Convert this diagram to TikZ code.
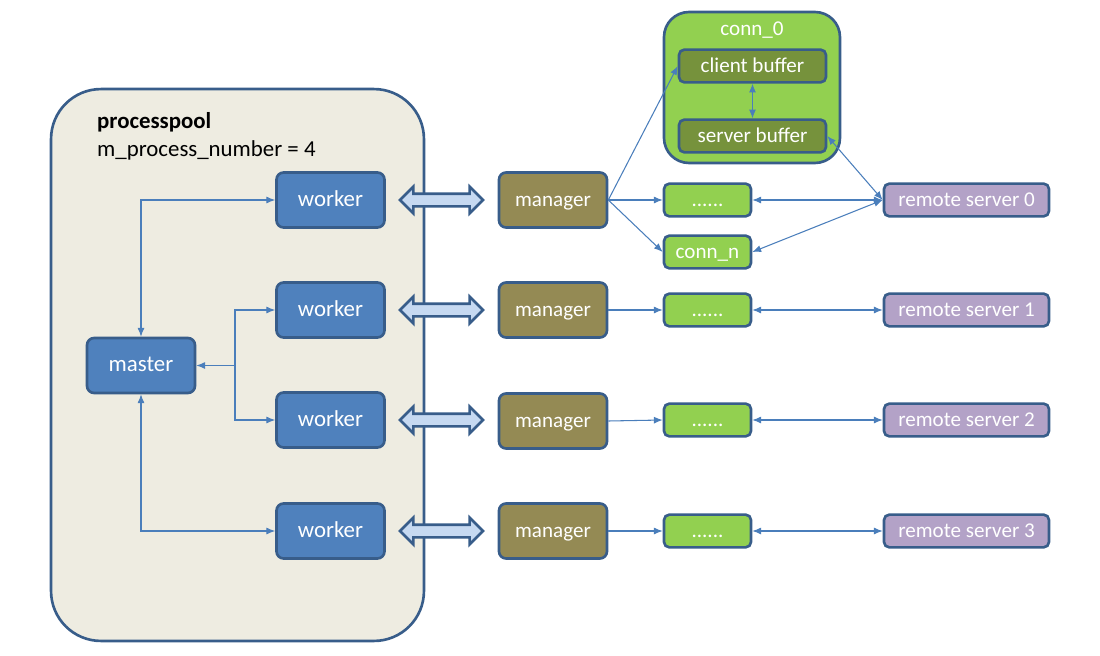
\documentclass[tikz,border=0pt]{standalone}
\usepackage{fontspec}
\setmainfont{Carlito}
\usetikzlibrary{arrows.meta,shapes.arrows}
\definecolor{wblue}{HTML}{4F81BD}
\definecolor{bdr}{HTML}{385D8A}
\definecolor{mgolive}{HTML}{948A54}
\definecolor{lgreen}{HTML}{92D050}
\definecolor{dgreen}{HTML}{76923C}
\definecolor{rpurple}{HTML}{B3A2C7}
\definecolor{poolbg}{HTML}{EEECE1}
\definecolor{lnblue}{HTML}{4A7EBB}
\definecolor{arrfill}{HTML}{C6D9F1}
\tikzset{node distance=2.5cm, auto,
  box/.style={draw=bdr, line width=1.5pt, rounded corners=4pt, text=white,
    font=\fontsize{12}{14}\selectfont, text height=2ex, text depth=0.5ex,
    minimum width=2.16cm, minimum height=1.1cm},
  wk/.style={box, fill=wblue, font=\fontsize{13}{15}\selectfont},
  mg/.style={box, fill=mgolive},
  sm/.style={box, fill=lgreen, minimum width=1.74cm, minimum height=0.64cm, rounded corners=3pt},
  rs/.style={box, fill=rpurple, minimum width=3.3cm, minimum height=0.64cm, rounded corners=3pt},
  buf/.style={box, fill=dgreen, minimum width=2.94cm, minimum height=0.64cm, rounded corners=3pt},
  pool/.style={draw=bdr, line width=1.5pt, fill=poolbg, rounded corners=1cm,
    minimum width=7.46cm, minimum height=11.04cm},
  conn/.style={draw=bdr, line width=1.5pt, fill=lgreen, rounded corners=0.5cm,
    minimum width=3.52cm, minimum height=3.02cm},
  dbl/.style={double arrow, draw=bdr, line width=1.5pt, fill=arrfill, inner sep=0.1cm,
    minimum height=1.66cm, minimum width=0.5cm, double arrow head extend=0.14cm},
  ln/.style={draw=lnblue, line width=0.6pt, >={Latex[length=5pt,width=4pt]}},
}

\begin{document}
\begin{tikzpicture}[x=0.02cm,y=-0.02cm]
\useasboundingbox (0,0) rectangle (1100,656);
\node[pool] (P) at (237.5,365) {};
\node[anchor=west, font=\fontsize{13}{15}\selectfont\bfseries] (T) at (91,122) {processpool};
\node[anchor=west, font=\fontsize{13}{15}\selectfont] (S) at (91,150) {m\_process\_number = 4};
\node[wk] (W0) at (330.5,200) {worker};
\node[wk] (W1) at (330.5,310) {worker};
\node[wk] (W2) at (330.5,420) {worker};
\node[wk] (W3) at (330.5,531) {worker};
\node[wk] (Ma) at (141,365.5) {master};
\coordinate (J) at (235,365.5);
\node[dbl] (A0) at (441.5,200) {};
\node[dbl] (A1) at (441.5,310) {};
\node[dbl] (A2) at (441.5,420) {};
\node[dbl] (A3) at (441.5,531) {};
\node[mg] (M0) at (553,200) {manager};
\node[mg] (M1) at (553,310) {manager};
\node[mg] (M2) at (553,421) {manager};
\node[mg] (M3) at (553,531) {manager};
\node[conn] (K) at (752,87.5) {};
\node[text=white, font=\fontsize{12}{14}\selectfont] (KT) at (752,30) {conn\_0};
\node[buf] (CB) at (752.5,66) {client buffer};
\node[buf] (SB) at (752.5,136) {server buffer};
\node[sm] (D0) at (707.5,200) {......};
\node[sm] (N) at (707.5,252) {conn\_n};
\node[sm] (D1) at (707.5,310) {......};
\node[sm] (D2) at (707.5,420) {......};
\node[sm] (D3) at (707.5,531) {......};
\node[rs] (R0) at (966.5,200) {remote server 0};
\node[rs] (R1) at (966.5,310) {remote server 1};
\node[rs] (R2) at (966.5,420) {remote server 2};
\node[rs] (R3) at (966.5,531) {remote server 3};
\draw[ln,<->] (Ma.north) |- (W0.west);
\draw[ln,<->] (Ma.south) |- (W3.west);
\draw[ln,->] (J) -- (Ma.east);
\draw[ln,->] (J) |- (W1.west);
\draw[ln,->] (J) |- (W2.west);
\draw[ln,->] (M0.east) -- (CB.west);
\draw[ln,->] (M0.east) -- (D0.west);
\draw[ln,->] (M0.east) -- (N.west);
\draw[ln,<->] (CB.south) -- (SB.north);
\draw[ln,<->] (SB.east) -- (R0.west);
\draw[ln,<->] (D0.east) -- (R0.west);
\draw[ln,<->] (N.east) -- (R0.west);
\draw[ln,->] (M1.east) -- (D1.west);
\draw[ln,->] (M2.east) -- (D2.west);
\draw[ln,->] (M3.east) -- (D3.west);
\draw[ln,<->] (D1.east) -- (R1.west);
\draw[ln,<->] (D2.east) -- (R2.west);
\draw[ln,<->] (D3.east) -- (R3.west);
\end{tikzpicture}
\end{document}
